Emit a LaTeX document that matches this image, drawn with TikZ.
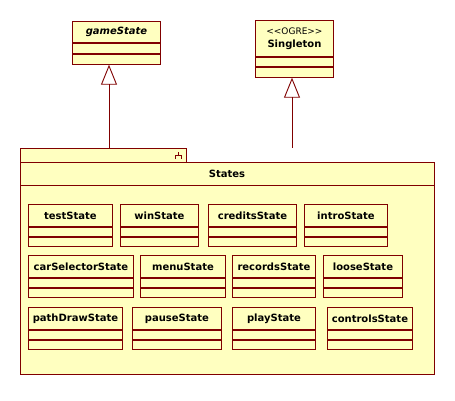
\documentclass[tikz,border=0pt]{standalone}
\usepackage{fontspec}
\setmainfont{DejaVu Sans}
\usetikzlibrary{arrows.meta,positioning}
\definecolor{umlred}{RGB}{128,0,0}
\definecolor{umlfill}{RGB}{255,255,192}
\tikzstyle{umlline}=[draw=umlred, line width=0.9pt]
\tikzstyle{classname}=[umlline, fill=umlfill, minimum height=22pt, inner sep=0pt, font=\fontsize{10}{12}\selectfont\bfseries]
\tikzstyle{compart}=[umlline, fill=umlfill, minimum height=9pt, inner sep=0pt, anchor=north]
\tikzstyle{inherit}=[umlline, -{Triangle[open,length=20pt,width=16pt]}]

\begin{document}
\begin{tikzpicture}[x=1pt,y=-1pt]
    \useasboundingbox (0,0) rectangle (455,401);
    \fill[white] (0,0) rectangle (455,401);

    % First the package with its tab
    \node[classname, minimum width=166pt, minimum height=14pt, anchor=north west] (tab) at (20,148) {};
    \node[classname, minimum width=414pt, minimum height=212pt, anchor=north west] (States) at (20,162) {};
    \node[font=\fontsize{10}{12}\selectfont\bfseries] (statesname) at (227,174) {States};
    \draw[umlline] (20,185) -- (434,185);
    \draw[umlline] (175,159) -- (175,155) -- (181,155) -- (181,159) (178,155) -- (178,152);

    % The two parent classes
    \node[classname, minimum width=88pt, minimum height=21pt, anchor=north west, font=\fontsize{10}{12}\selectfont\bfseries\itshape] (gameState) at (72,21) {gameState};
    \node[compart, minimum width=88pt, minimum height=10pt] (gameState-b) at (gameState.south) {};
    \node[compart, minimum width=88pt, minimum height=10pt] (gameState-c) at (gameState-b.south) {};

    \node[classname, minimum width=78pt, minimum height=36pt, anchor=north west, align=center] (Singleton) at (255,20) {{\mdseries\fontsize{9}{11}\selectfont <{}<OGRE>{}>}\\[1pt]Singleton};
    \node[compart, minimum width=78pt] (Singleton-b) at (Singleton.south) {};
    \node[compart, minimum width=78pt, minimum height=10pt] (Singleton-c) at (Singleton-b.south) {};

    % Then the classes inside the package
    \foreach \x/\y/\w/\name in {28/204/84/testState, 120/204/78/winState, 208/204/88/creditsState, 304/204/83/introState,
        28/255/105/carSelectorState, 140/255/85/menuState, 232/255/83/recordsState, 323/255/79/looseState,
        28/307/94/pathDrawState, 132/307/89/pauseState, 232/307/83/playState, 327/307/85/controlsState} {
        \node[classname, minimum width=\w pt, anchor=north west] (\name) at (\x,\y) {\name};
        \node[compart, minimum width=\w pt] (\name-b) at (\name.south) {};
        \node[compart, minimum width=\w pt] (\name-c) at (\name-b.south) {};
    }

    % Generalizations
    \coordinate (gsfoot) at (109,148);
    \coordinate (sgfoot) at (292,148);
    \path[inherit] (gsfoot) -- (gsfoot |- gameState-c.south);
    \path[inherit] (sgfoot) -- (sgfoot |- Singleton-c.south);
\end{tikzpicture}
\end{document}
